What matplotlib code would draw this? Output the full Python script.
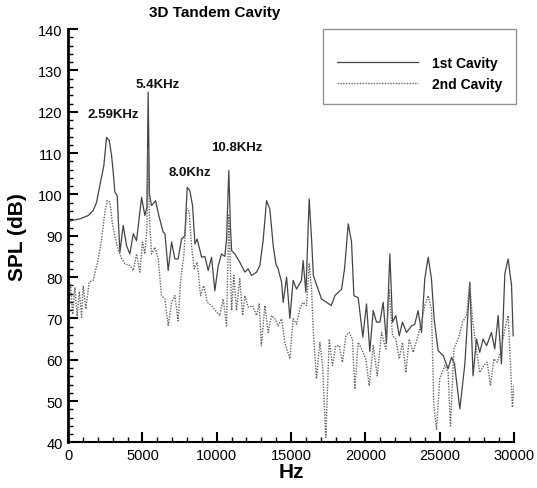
import matplotlib
matplotlib.use("Agg")
import matplotlib.pyplot as plt
import numpy as np
from matplotlib.ticker import MultipleLocator

plt.rcParams['font.family'] = ['Liberation Sans', 'DejaVu Sans']

# 1st cavity spectrum (frequency in kHz, SPL in dB)
freq_1st = [0.0, 0.4, 0.79, 1.35, 1.68, 1.91, 2.13, 2.40, 2.58, 2.76, 2.92, 3.03, 3.14, 3.30,
            3.37, 3.48, 3.70, 3.93, 4.15, 4.38, 4.60, 4.94, 5.16, 5.30, 5.38, 5.47, 5.61, 5.88,
            6.10, 6.39, 6.51, 6.73, 6.96, 7.18, 7.40, 7.63, 7.85, 8.01, 8.19, 8.37, 8.53, 8.68,
            8.98, 9.20, 9.42, 9.65, 9.87, 10.10, 10.32, 10.54, 10.66, 10.81, 10.92, 11.00, 11.22,
            11.55, 11.89, 12.11, 12.34, 12.68, 12.90, 13.12, 13.35, 13.57, 13.80, 13.98, 14.13,
            14.36, 14.47, 14.70, 14.92, 15.14, 15.37, 15.70, 15.81, 16.00, 16.22, 16.38, 16.50,
            16.82, 17.05, 17.39, 17.70, 17.95, 18.40, 18.60, 18.85, 19.07, 19.23, 19.52, 19.83,
            20.08, 20.30, 20.53, 20.75, 20.98, 21.20, 21.42, 21.65, 21.83, 22.05, 22.28, 22.50,
            22.77, 23.11, 23.33, 23.55, 23.78, 24.00, 24.23, 24.45, 24.63, 24.90, 25.24, 25.57,
            25.80, 26.00, 26.36, 26.70, 27.03, 27.25, 27.48, 27.70, 27.93, 28.16, 28.49, 28.71,
            28.94, 29.16, 29.39, 29.61, 29.84, 29.95]
spl_1st = [93.5, 93.8, 94.1, 94.9, 96.1, 98.1, 102.2, 107.0, 113.8, 113.1, 109.4, 105.4, 100.6, 99.7,
           94.1, 86.0, 92.5, 87.6, 85.6, 90.5, 88.8, 99.3, 94.9, 97.0, 124.8, 100.0, 97.3, 98.5,
           94.9, 90.9, 90.5, 81.6, 88.5, 84.4, 84.4, 89.2, 90.0, 101.7, 100.9, 97.3, 88.0, 89.2,
           84.8, 85.0, 81.6, 84.8, 76.7, 82.8, 85.6, 85.0, 89.2, 105.8, 92.0, 86.4, 85.6,
           83.6, 81.2, 82.0, 80.4, 81.2, 82.8, 88.8, 98.5, 96.5, 87.6, 83.2, 82.0,
           78.8, 73.9, 80.0, 70.0, 79.2, 77.1, 79.2, 84.0, 76.3, 98.9, 89.2, 80.4,
           77.1, 74.7, 73.9, 73.1, 75.5, 77.1, 82.0, 92.9, 88.5, 75.5, 75.0, 65.5,
           73.5, 62.0, 71.9, 69.1, 69.1, 73.9, 64.1, 85.6, 69.1, 70.7, 65.8, 69.1,
           66.6, 68.2, 68.6, 71.9, 66.6, 79.6, 84.8, 79.6, 69.9, 62.2, 61.0, 57.8,
           60.6, 59.0, 48.1, 59.0, 78.8, 56.1, 65.0, 61.8, 65.0, 63.4, 66.6, 62.6,
           70.7, 59.0, 80.8, 84.4, 78.0, 65.8]

# 2nd cavity spectrum (frequency in kHz, SPL in dB)
freq_2nd = [0.0, 0.15, 0.30, 0.45, 0.60, 0.75, 0.90, 1.01, 1.19, 1.41, 1.68, 2.02, 2.25, 2.47,
            2.62, 2.81, 2.99, 3.14, 3.37, 3.60, 3.82, 4.15, 4.38, 4.60, 4.82, 5.00, 5.16, 5.30,
            5.38, 5.47, 5.61, 5.84, 6.06, 6.28, 6.51, 6.73, 6.96, 7.18, 7.40, 7.56, 7.79, 7.97,
            8.14, 8.30, 8.48, 8.68, 8.91, 9.13, 9.36, 9.65, 9.99, 10.20, 10.43, 10.66, 10.81,
            11.00, 11.15, 11.33, 11.55, 11.74, 11.89, 12.11, 12.41, 12.68, 12.86, 13.00, 13.24,
            13.46, 13.69, 13.91, 14.13, 14.36, 14.58, 14.92, 15.14, 15.37, 15.59, 15.81, 16.04,
            16.22, 16.38, 16.49, 16.71, 16.94, 17.12, 17.34, 17.57, 17.79, 18.01, 18.24, 18.46,
            18.69, 18.91, 19.13, 19.29, 19.52, 19.74, 20.03, 20.26, 20.53, 20.80, 21.09, 21.38,
            21.60, 21.83, 22.05, 22.28, 22.50, 22.73, 22.95, 23.22, 23.48, 23.78, 24.00, 24.23,
            24.45, 24.61, 24.79, 25.01, 25.35, 25.57, 25.73, 25.96, 26.25, 26.54, 26.81, 27.03,
            27.21, 27.44, 27.70, 27.97, 28.20, 28.42, 28.65, 28.87, 29.10, 29.39, 29.61, 29.77,
            29.90, 30.00]
spl_2nd = [70.7, 78.5, 71.0, 77.5, 70.5, 76.5, 70.3, 77.9, 72.3, 78.8, 79.2, 84.4, 89.2, 95.7,
           98.5, 98.1, 92.5, 90.0, 86.5, 84.5, 83.2, 82.8, 81.6, 85.6, 81.2, 88.5, 85.6, 92.0,
           111.0, 94.0, 85.6, 87.2, 84.4, 75.5, 74.7, 68.2, 73.9, 75.5, 69.4, 78.8, 85.6, 96.7,
           95.9, 87.6, 82.0, 83.6, 75.5, 77.9, 73.9, 73.1, 71.5, 70.7, 74.7, 68.2, 95.0,
           71.9, 80.4, 71.9, 79.6, 70.7, 75.5, 72.7, 73.1, 70.7, 73.5, 63.4, 73.1,
           66.6, 70.7, 69.9, 68.2, 69.9, 64.2, 60.2, 69.9, 68.6, 72.3, 73.9, 73.1,
           83.2, 77.1, 67.4, 55.4, 64.2, 58.6, 41.2, 65.0, 58.6, 63.4, 63.4, 59.4,
           65.8, 66.6, 65.0, 52.9, 64.2, 62.6, 60.2, 53.7, 63.4, 56.1, 66.6, 62.6,
           77.1, 65.8, 65.0, 60.2, 64.2, 56.9, 65.0, 61.8, 65.0, 69.1, 73.1, 75.5,
           72.3, 48.9, 43.2, 55.4, 58.6, 57.0, 44.0, 62.6, 65.0, 69.1, 70.7, 78.4,
           69.9, 63.4, 56.9, 58.6, 59.4, 53.7, 60.2, 59.4, 61.8, 67.4, 70.7, 59.0,
           48.5, 53.7]

# peak annotations: text, frequency (kHz), SPL (dB) of text anchor
peak_labels = ["2.59KHz", "5.4KHz", "8.0Khz", "10.8KHz"]
peak_text_x = [1.3, 4.5, 6.75, 9.6]
peak_text_y = [119.5, 126.8, 105.5, 111.6]

fig = plt.figure(figsize=(5.37, 4.89), dpi=100)
ax = fig.add_axes([0.127, 0.0933, 0.830, 0.845])

ax.plot(np.array(freq_1st) * 1000, spl_1st, color='#444444', lw=0.9,
        label='1st Cavity')
ax.plot(np.array(freq_2nd) * 1000, spl_2nd, color='#666666', lw=1.0,
        linestyle=(0, (1, 1)), label='2nd Cavity')

for txt, fx, fy in zip(peak_labels, peak_text_x, peak_text_y):
    ax.text(fx * 1000, fy, txt, fontsize=9.5, fontweight='bold',
            ha='left', va='center', color='#111111')

ax.set_xlim(0, 30000)
ax.set_ylim(40, 140)
ax.xaxis.set_major_locator(MultipleLocator(5000))
ax.xaxis.set_minor_locator(MultipleLocator(1000))
ax.yaxis.set_major_locator(MultipleLocator(10))
ax.yaxis.set_minor_locator(MultipleLocator(2))

for side in ['top', 'right']:
    ax.spines[side].set_visible(False)
ax.spines['left'].set_linewidth(2.0)
ax.spines['bottom'].set_linewidth(1.5)

ax.tick_params(which='major', direction='in', length=7, width=1.5,
               labelsize=10.5, pad=4)
ax.tick_params(which='minor', direction='in', length=3.5, width=1.0)

ax.set_xlabel('Hz', fontsize=15, fontweight='bold', labelpad=0)
ax.set_ylabel('SPL (dB)', fontsize=15, fontweight='bold', labelpad=8)
fig.text(215 / 537, 1 - 13 / 489, '3D Tandem Cavity', fontsize=11,
         fontweight='bold', ha='center', va='center')

leg = ax.legend(loc='upper right', bbox_to_anchor=(1.004, 1.0), title=' ',
                fancybox=False, frameon=True, edgecolor='#777777',
                prop={'weight': 'bold', 'size': 10},
                handlelength=5.8, handletextpad=1.0, borderpad=1.0,
                labelspacing=0.45, borderaxespad=0)
leg.get_frame().set_linewidth(1.0)
leg.get_title().set_fontsize(5)

fig.savefig('out.png', dpi=100)
